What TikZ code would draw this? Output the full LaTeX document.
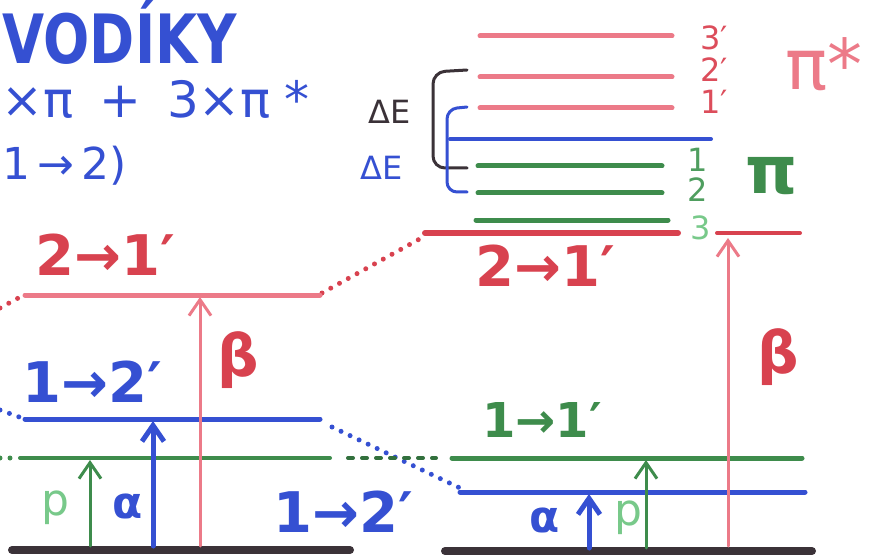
\documentclass[tikz,border=0pt]{standalone}
\usepackage{fontspec}
\setmainfont{DejaVu Sans}
\usetikzlibrary{arrows.meta}
\definecolor{rose}{HTML}{EC7A88}
\definecolor{crimson}{HTML}{D8424F}
\definecolor{ink}{HTML}{3550D2}
\definecolor{leaf}{HTML}{3E8C4C}
\definecolor{mint}{HTML}{78C98A}
\definecolor{coal}{HTML}{3B3238}
\tikzset{
  level/.style={line width=5pt},
  dots/.style={line width=5pt, dash pattern=on 0pt off 10pt},
  up/.style={-{Straight Barb[length=16pt, width=22pt]}},
  big/.style={font=\bfseries\fontsize{56}{56}\selectfont, inner sep=0pt},
  mid/.style={font=\fontsize{44}{44}\selectfont, inner sep=0pt},
  small/.style={font=\fontsize{32}{32}\selectfont, inner sep=0pt}
}
\begin{document}
\begin{tikzpicture}[x=1pt, y=-1pt, line cap=round]
  \useasboundingbox (0,0) rectangle (875,556);
  \clip (0,0) rectangle (875,556);
  \node[ink, anchor=base east, xscale=0.8, font=\bfseries\fontsize{68}{68}\selectfont, inner sep=0pt] (title) at (237,64) {VODÍKY};
  \node[ink, anchor=base west, font=\fontsize{50}{50}\selectfont, inner sep=0pt] (sum) at (1,118) {×π\hspace{26pt}+\hspace{26pt}3×π\hspace{14pt}*};
  \node[ink, anchor=base west, mid] (path) at (2,180) {1\,→\,2)};
  % pi* levels
  \foreach \y/\t/\n in {36/38/3,77/70/2,108/102/1} {
    \draw[rose, level] (480,\y) -- (672,\y);
    \node[crimson!80!rose, small] (a\n) at (714,\t) {\n′};
  }
  \node[rose, font=\fontsize{70}{70}\selectfont, inner sep=0pt] (pistar) at (824,64) {π*};
  \draw[ink, line width=4pt] (450,139) -- (711,139);
  % pi levels
  \foreach \y/\t/\n in {166/160/1,193/190/2} {
    \draw[leaf, level] (478,\y) -- (662,\y);
    \node[leaf!70!mint, small] (b\n) at (698,\t) {\n};
  }
  \draw[leaf, level] (476,220) -- (668,220);
  \node[mint, small] (b3) at (701,228) {3};
  \node[leaf, font=\bfseries\fontsize{66}{66}\selectfont, inner sep=0pt] (pi) at (772,176) {π};
  \draw[coal, line width=3pt, rounded corners=12pt] (467,70) -- (433,72) -- (433,168) -- (467,168);
  \draw[ink, line width=3pt, rounded corners=10pt] (467,107) -- (447,109) -- (447,192) -- (467,192);
  \node[coal, small] (dE1) at (390,112) {ΔE};
  \node[ink, small] (dE2) at (382,168) {ΔE};
  % red level, right
  \draw[crimson, line width=6pt] (425,233) -- (678,233);
  \draw[crimson, line width=4pt] (717,233) -- (800,233);
  \node[crimson, big] (rt) at (545,266) {2→1′};
  \draw[crimson, dots] (322,293) -- (425,236);
  % left side
  \node[crimson, big] (lt) at (105,255) {2→1′};
  \draw[rose, level] (25,295) -- (320,295);
  \draw[crimson, dots] (0,308) -- (22,296);
  \node[ink, big] (lb) at (92,382) {1→2′};
  \draw[ink, level] (25,419) -- (320,419);
  \draw[ink, dots] (0,410) -- (22,418);
  \draw[ink, dots] (332,427) -- (460,488);
  \draw[leaf, line width=4pt] (20,458) -- (330,458);
  \draw[leaf, dots] (0,458) -- (14,458);
  \draw[leaf!80!black, line width=4pt, dash pattern=on 5pt off 9pt] (348,458) -- (436,458);
  \node[ink, big] (lb2) at (343,512) {1→2′};
  \draw[coal, line width=8pt] (12,550) -- (350,550);
  \coordinate (pL) at (90,546);
  \coordinate (aL) at (153,546);
  \coordinate (bL) at (200,546);
  \draw[leaf, line width=3pt, up] (pL) -- (90,460);
  \draw[ink, line width=5pt, up] (aL) -- (153,421);
  \draw[rose, line width=3pt, up] (bL) -- (200,297);
  \node[mint, mid] (pl) at (55,508) {p};
  \node[ink, font=\bfseries\fontsize{44}{44}\selectfont, inner sep=0pt] (al) at (128,506) {α};
  \node[crimson, font=\bfseries\fontsize{58}{58}\selectfont, inner sep=0pt] (bl) at (238,360) {β};
  % right side
  \draw[coal, line width=8pt] (445,551) -- (812,551);
  \draw[ink, level] (460,492) -- (805,492);
  \draw[leaf, level] (452,458) -- (802,458);
  \node[leaf, font=\bfseries\fontsize{48}{48}\selectfont, inner sep=0pt] (rg) at (542,420) {1→1′};
  \coordinate (aR) at (589,548);
  \coordinate (pR) at (646,548);
  \coordinate (bR) at (728,546);
  \draw[ink, line width=5pt, up] (aR) -- (589,494);
  \draw[leaf, line width=3pt, up] (pR) -- (646,460);
  \draw[rose, line width=3pt, up] (bR) -- (728,238);
  \node[ink, font=\bfseries\fontsize{44}{44}\selectfont, inner sep=0pt] (ar) at (545,520) {α};
  \node[mint, mid] (pr) at (628,518) {p};
  \node[crimson, font=\bfseries\fontsize{58}{58}\selectfont, inner sep=0pt] (br) at (778,357) {β};
\end{tikzpicture}
\end{document}
